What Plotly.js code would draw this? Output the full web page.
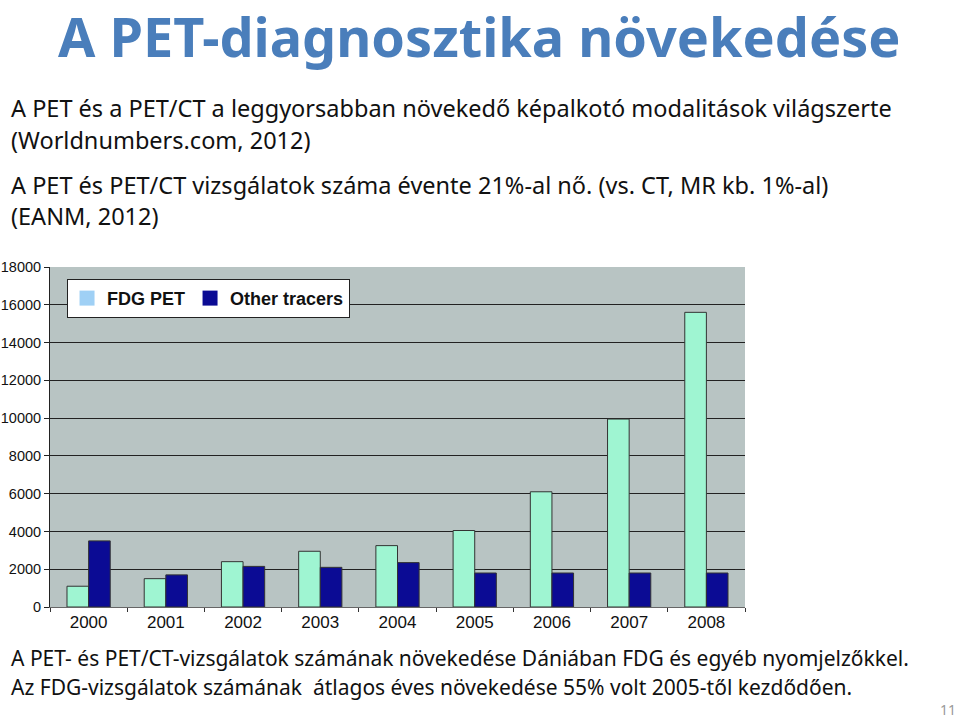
<!DOCTYPE html>
<html><head><meta charset="utf-8">
<script src="https://cdn.plot.ly/plotly-3.0.1.min.js"></script>
<style>body{margin:0;background:#fff}#chart{width:960px;height:720px}</style>
</head><body><div id="chart"></div>
<script>
const years = ['2000','2001','2002','2003','2004','2005','2006','2007','2008'];
const fdgPet = [1100, 1500, 2400, 2950, 3250, 4050, 6100, 9950, 15600];
const otherTracers = [3500, 1700, 2150, 2100, 2350, 1800, 1800, 1800, 1800];
const seriesNames = ['FDG PET', 'Other tracers'];
const yTicks = [0,2000,4000,6000,8000,10000,12000,14000,16000,18000];

const topFont = {family:'Noto Sans, Open Sans, sans-serif', size:23.5, color:'#111'};
const bottomFont = {family:'Noto Sans, Open Sans, sans-serif', size:21, color:'#111'};
function note(text, x, y, font, extra){
  return Object.assign({text:text, xref:'paper', yref:'paper', x:x, y:y, xanchor:'left', yanchor:'middle', showarrow:false, font:font}, extra||{});
}

const data = [
  {type:'bar', name:seriesNames[0], x:years, y:fdgPet, showlegend:false, legendgroup:'fdg',
   marker:{color:'#9ff5d2', line:{color:'#333', width:1}}},
  {type:'bar', name:seriesNames[1], x:years, y:otherTracers, showlegend:false, legendgroup:'oth',
   marker:{color:'#0b0b94', line:{color:'#333', width:1}}},
  {type:'scatter', mode:'markers', name:seriesNames[0], x:[null], y:[null], legendgroup:'fdg',
   marker:{symbol:'square', size:15, color:'#9fd0f5'}},
  {type:'scatter', mode:'markers', name:seriesNames[1], x:[null], y:[null], legendgroup:'oth',
   marker:{symbol:'square', size:15, color:'#0b0b94'}}
];

const layout = {
  width:960, height:720,
  margin:{l:50, r:215, t:267, b:113},
  paper_bgcolor:'#fff', plot_bgcolor:'#b8c4c3',
  barmode:'group', bargap:0.44, bargroupgap:0,
  showlegend:true,
  legend:{orientation:'h', x:0.0245, y:0.965, xanchor:'left', yanchor:'top',
    bgcolor:'#fff', bordercolor:'#222', borderwidth:1,
    font:{family:'Liberation Sans, Arial, sans-serif', size:18, color:'#111', weight:'bold'},
    itemwidth:30},
  xaxis:{type:'category', tickfont:{family:'Liberation Sans, Arial, sans-serif', size:17, color:'#111'},
    ticks:'outside', tickson:'boundaries', ticklen:4, tickcolor:'#333',
    showline:true, linecolor:'#666', linewidth:1, showgrid:false},
  yaxis:{range:[0,18000], tickvals:yTicks, ticktext:yTicks.map(String),
    tickfont:{family:'Liberation Sans, Arial, sans-serif', size:14.5, color:'#111'},
    showgrid:true, gridcolor:'#222', gridwidth:1,
    ticks:'outside', ticklen:5, tickcolor:'#222',
    showline:true, linecolor:'#222', linewidth:1, zeroline:false, fixedrange:true},
  annotations:[
    note('<b>A PET-diagnosztika növekedése</b>', 0.6187, 1.6794,
      {family:'Noto Sans, Open Sans, sans-serif', size:54, color:'#4a7ebb'}, {xanchor:'center'}),
    note('A PET és a PET/CT a leggyorsabban növekedő képalkotó modalitások világszerte', -0.059, 1.4676, topFont),
    note('(Worldnumbers.com, 2012)', -0.059, 1.3735, topFont),
    note('A PET és PET/CT vizsgálatok száma évente 21%-al nő. (vs. CT, MR kb. 1%-al)', -0.059, 1.241, topFont),
    note('(EANM, 2012)', -0.059, 1.15, topFont),
    note('A PET- és PET/CT-vizsgálatok számának növekedése Dániában FDG és egyéb nyomjelzőkkel.', -0.059, -0.15, bottomFont),
    note('Az FDG-vizsgálatok számának  átlagos éves növekedése 55% volt 2005-től kezdődően.', -0.059, -0.2353, bottomFont),
    note('11', 1.3065, -0.3, {family:'Noto Sans, sans-serif', size:14, color:'#999'}, {xanchor:'right'})
  ]
};
Plotly.newPlot('chart', data, layout, {staticPlot:true});
</script></body></html>
